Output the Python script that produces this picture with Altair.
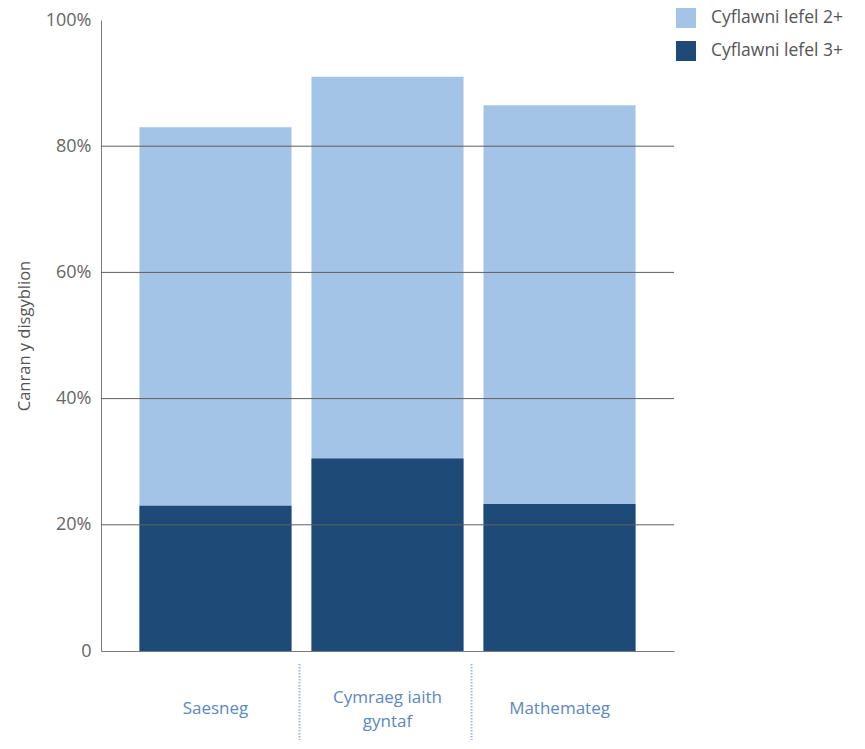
import altair as alt
import pandas as pd

subjects = ["Saesneg", "Cymraeg iaith gyntaf", "Mathemateg"]
level2 = [0.83, 0.91, 0.865]
level3 = [0.23, 0.305, 0.233]
series = ["Cyflawni lefel 2+", "Cyflawni lefel 3+"]
colors = ["#a3c4e7", "#1d4a76"]
grid_values = [0.2, 0.4, 0.6, 0.8]
separators = ["Saesneg", "Cymraeg iaith gyntaf"]
y_ticks = [0, 0.2, 0.4, 0.6, 0.8, 1.0]

rows = []
for s, v in zip(subjects, level2):
    rows.append({"subject": s, "series": series[0], "value": v})
for s, v in zip(subjects, level3):
    rows.append({"subject": s, "series": series[1], "value": v})
df = pd.DataFrame(rows)

FONT = "Open Sans"

y_scale = alt.Scale(domain=[0, 1])
x_scale = alt.Scale(paddingInner=0.116, paddingOuter=0.2235)

x_axis = alt.Axis(
    title=None, labelAngle=0, ticks=False, domainColor="#7a7a7a",
    labelColor="#5b87c2", labelFontSize=17, labelFont=FONT,
    labelPadding={"condition": {"test": "datum.value == 'Cymraeg iaith gyntaf'", "value": 46}, "value": 57},
    labelBaseline="middle", labelLineHeight=24,
    labelExpr="datum.label == 'Cymraeg iaith gyntaf' ? ['Cymraeg iaith', 'gyntaf'] : datum.label",
)
y_axis = alt.Axis(
    title="Canran y disgyblion", values=y_ticks, format=".0%",
    labelExpr="datum.value == 0 ? '0' : datum.label",
    ticks=False, grid=False, domainColor="#7a7a7a",
    labelColor="#666666", labelFontSize=18, labelFont=FONT,
    labelPadding=10, titleFont=FONT, titleFontSize=16.5,
    titleFontWeight="normal", titleColor="#555555", titlePadding=13,
)

bars = alt.Chart(df).mark_bar().encode(
    x=alt.X("subject:N", sort=subjects, scale=x_scale, axis=x_axis),
    y=alt.Y("value:Q", stack=None, scale=y_scale, axis=y_axis),
    color=alt.Color(
        "series:N",
        scale=alt.Scale(domain=series, range=colors),
        legend=alt.Legend(
            title=None, orient="none", legendX=575, legendY=-12,
            symbolType="square", symbolSize=400, symbolStrokeWidth=0,
            symbolOpacity=1, labelFont=FONT, labelFontSize=17.5,
            labelColor="#555555", rowPadding=13, labelOffset=15,
            labelLimit=300,
        ),
    ),
    order=alt.Order("series:N", sort="ascending"),
)

grid = alt.Chart(pd.DataFrame({"value": grid_values})).mark_rule(
    color="#5f5f5f", strokeWidth=1
).encode(y=alt.Y("value:Q", scale=y_scale, axis=y_axis))

seps = alt.Chart(pd.DataFrame({"subject": separators})).mark_rule(
    color="#a4b5d6", strokeWidth=2, strokeDash=[1.5, 1.5], xOffset=8
).encode(
    x=alt.X("subject:N", sort=subjects, scale=x_scale, bandPosition=1, axis=x_axis),
    y=alt.value(644),
    y2=alt.value(732),
)

chart = alt.layer(bars, grid, seps).properties(
    width=573, height=631,
    autosize="none",
    padding={"left": 93, "top": 12, "right": 183, "bottom": 89},
).configure_view(stroke=None)

chart.save("out.html", embed_options={"renderer": "svg", "actions": False})
